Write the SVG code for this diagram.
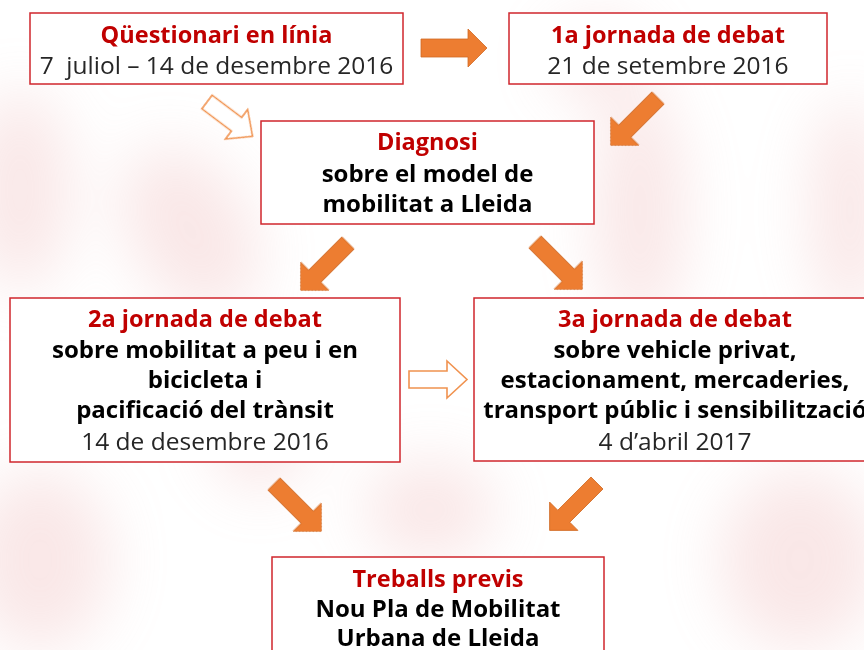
<svg xmlns="http://www.w3.org/2000/svg" width="864" height="650" viewBox="0 0 864 650">
<defs>
<filter id="blur" x="-50%" y="-50%" width="200%" height="200%"><feGaussianBlur stdDeviation="30"/></filter>
<style>
.box{fill:#ffffff;stroke:#d0262d;stroke-width:1.5}
.t{font-family:"Open Sans","Liberation Sans",sans-serif;font-size:24px;text-anchor:middle}
.ti{fill:#c00000;font-weight:bold;font-size:23.5px}
.b{fill:#000000;font-weight:bold}
.d{fill:#262626;font-size:24.5px}
.af{fill:#ed7d31;stroke:#d06a25;stroke-width:0.8}
.ao{fill:#ffffff;stroke:#f0924f;stroke-width:1.6}
</style>
</defs>
<rect width="864" height="650" fill="#ffffff"/>
<g id="background" filter="url(#blur)" fill="#e9a0a0" opacity="0.25">
<ellipse cx="20" cy="190" rx="50" ry="100"/>
<ellipse cx="190" cy="230" rx="60" ry="90" transform="rotate(-30 190 230)"/>
<ellipse cx="640" cy="210" rx="45" ry="120"/>
<ellipse cx="600" cy="60" rx="50" ry="40"/>
<ellipse cx="850" cy="210" rx="40" ry="110"/>
<ellipse cx="40" cy="560" rx="70" ry="90"/>
<ellipse cx="430" cy="510" rx="65" ry="50"/>
<ellipse cx="800" cy="560" rx="80" ry="90"/>
<ellipse cx="260" cy="420" rx="50" ry="70"/>
</g>
<g id="connectors">
<polygon class="af" points="0,-9 47,-9 47,-19 66,0 47,19 47,9 0,9" transform="translate(421 48)"/>
<polygon class="ao" points="0,-8.5 37,-8.5 37,-18.5 57,0 37,18.5 37,8.5 0,8.5" transform="translate(207 102) rotate(37)"/>
<polygon class="af" points="0,-8.5 47,-8.5 47,-20 67,0 47,20 47,8.5 0,8.5" transform="translate(658 98) rotate(135)"/>
<polygon class="af" points="0,-8.5 47,-8.5 47,-20 67,0 47,20 47,8.5 0,8.5" transform="translate(348 243) rotate(135)"/>
<polygon class="af" points="0,-8.5 47,-8.5 47,-20 67,0 47,20 47,8.5 0,8.5" transform="translate(535 242) rotate(45)"/>
<polygon class="ao" points="0,-8.5 38,-8.5 38,-18.5 58,0 38,18.5 38,8.5 0,8.5" transform="translate(409 379.5)"/>
<polygon class="af" points="0,-8.5 47,-8.5 47,-20 67,0 47,20 47,8.5 0,8.5" transform="translate(274 484) rotate(45)"/>
<polygon class="af" points="0,-8.5 47,-8.5 47,-20 67,0 47,20 47,8.5 0,8.5" transform="translate(597 483) rotate(135)"/>
</g>
<g id="node-questionari">
<rect class="box" x="30" y="13" width="373" height="71"/>
<text class="t ti" x="216.5" y="43">Qüestionari en línia</text>
<text class="t d" x="216.5" y="74" xml:space="preserve">7  juliol – 14 de desembre 2016</text>
</g>
<g id="node-jornada1">
<rect class="box" x="509" y="13" width="318" height="71"/>
<text class="t ti" x="668" y="43">1a jornada de debat</text>
<text class="t d" x="668" y="74">21 de setembre 2016</text>
</g>
<g id="node-diagnosi">
<rect class="box" x="261" y="121" width="333" height="103"/>
<text class="t ti" x="427.5" y="150">Diagnosi</text>
<text class="t b" x="427.5" y="182">sobre el model de</text>
<text class="t b" x="427.5" y="212">mobilitat a Lleida</text>
</g>
<g id="node-jornada2">
<rect class="box" x="10" y="298" width="390" height="164"/>
<text class="t ti" x="205" y="327">2a jornada de debat</text>
<text class="t b" x="205" y="358">sobre mobilitat a peu i en</text>
<text class="t b" x="205" y="388">bicicleta i</text>
<text class="t b" x="205" y="418">pacificació del trànsit</text>
<text class="t d" x="205" y="450">14 de desembre 2016</text>
</g>
<g id="node-jornada3">
<rect class="box" x="474" y="298" width="402" height="163"/>
<text class="t ti" x="675" y="327">3a jornada de debat</text>
<text class="t b" x="675" y="358">sobre vehicle privat,</text>
<text class="t b" x="675" y="388">estacionament, mercaderies,</text>
<text class="t b" x="675" y="418">transport públic i sensibilització</text>
<text class="t d" x="675" y="450">4 d’abril 2017</text>
</g>
<g id="node-treballs">
<rect class="box" x="272" y="557" width="332" height="110"/>
<text class="t ti" x="438" y="587">Treballs previs</text>
<text class="t b" x="438" y="617">Nou Pla de Mobilitat</text>
<text class="t b" x="438" y="646">Urbana de Lleida</text>
</g>
</svg>
